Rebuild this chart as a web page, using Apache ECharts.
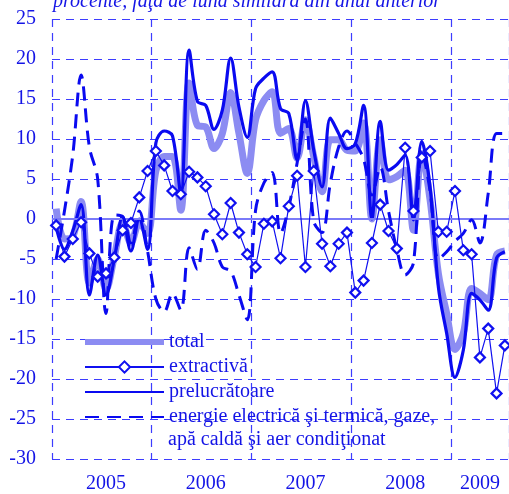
<!DOCTYPE html>
<html lang="ro">
<head>
  <meta charset="UTF-8">
  <title>Producţia industrială</title>
  <script src="https://cdn.jsdelivr.net/npm/echarts@6/dist/echarts.min.js"></script>
  <style>
    * { margin: 0; padding: 0; box-sizing: border-box; }
    body { background: #fff; }
    #chart { width: 509px; height: 494px; }
  </style>
</head>
<body>
  <div id="chart"></div>
  <script>
    // ani si numar de luni afisate
    var years = ['2005', '2006', '2007', '2008', '2009'];
    var monthsPerYear = [12, 12, 12, 12, 7];

    // procente, fata de luna similara din anul anterior
    var total = [
      1.3, -2.5, -2.2, 2.2, -8.0, -5.0, -8.8, -4.7, -0.5, -3.0, -0.5, -1.8,
      6.0, 7.8, 7.8, 1.1, 17.0, 11.7, 11.5, 8.8, 10.7, 15.8, 10.7, 5.7,
      12.4, 14.8, 15.9, 10.7, 11.3, 7.6, 12.4, 7.8, 3.4, 9.9, 9.9, 8.6,
      8.5, 12.0, 0.0, 9.9, 4.9, 5.3, 6.1, -1.4, 8.2, 2.4, -6.8, -11.8,
      -16.3, -14.3, -8.7, -9.3, -10.1, -4.5, -4.0
    ];
    var extractiva = [
      -0.8, -4.7, -2.5, -0.4, -4.3, -7.2, -6.8, -4.8, -1.4, -0.5, 2.7, 6.0,
      8.5, 6.7, 3.5, 3.1, 5.9, 5.2, 4.1, 0.6, -1.9, 2.0, -1.7, -4.4,
      -6.0, -0.6, -0.3, -4.9, 1.6, 5.4, -6.0, 6.0, -3.1, -5.9, -3.1, -1.7,
      -9.2, -7.7, -3.0, 1.8, -1.5, -3.7, 8.9, 1.0, 7.7, 8.5, -1.6, -1.6,
      3.5, -3.9, -4.4, -17.3, -13.7, -21.8, -15.8
    ];
    var prelucratoare = [
      -1.0, -3.8, -1.5, 1.8, -9.5, -4.5, -9.5, -5.0, 0.3, -4.0, 0.0, -3.8,
      9.5, 11.0, 10.4, 3.2, 21.1, 14.7, 14.2, 11.2, 13.6, 20.1, 14.0, 10.2,
      16.3, 17.6, 18.4, 13.8, 13.2, 7.4, 14.8, 8.6, 4.0, 12.6, 10.7, 8.8,
      9.4, 14.2, 0.0, 12.2, 6.1, 6.8, 8.0, -0.1, 9.7, 4.0, -8.5, -14.3,
      -19.8, -16.4, -9.3, -10.1, -11.4, -4.9, -4.1
    ];
    var energie = [
      -5.0, 1.0, 8.0, 18.0, 9.0, 5.0, -11.8, 0.5, 0.3, -3.0, 1.0, -4.0,
      -10.0, -11.6, -9.3, -11.4, -3.6, -6.3, -1.4, -3.0, -6.0, -6.5, -9.5, -12.6,
      1.1, 4.5, 5.8, -1.8, 1.5, 7.0, 12.5, -0.3, -1.7, 4.5, 9.0, 11.0,
      9.5, 7.5, 3.0, 6.5, 1.0, -3.8, -7.0, -5.5, 8.5, 3.5, -5.0, -4.1,
      -2.8, -1.8, -0.1, -3.0, 3.2, 10.7, 10.7
    ];

    var names = [
      'total',
      'extractivă',
      'prelucrătoare',
      'energie electrică şi termică, gaze,\napă caldă şi aer condiţionat'
    ];

    // categorii lunare + pozitia etichetei de an (mijlocul anului)
    var categories = [];
    var labelIndex = {};
    var yearStart = {};
    years.forEach(function (y, k) {
      yearStart[categories.length] = true;
      labelIndex[categories.length + Math.floor(monthsPerYear[k] / 2)] = true;
      for (var m = 1; m <= monthsPerYear[k]; m++) {
        categories.push(y + '-' + (m < 10 ? '0' + m : m));
      }
    });

    var blue = '#1414e6';
    var gridBlue = '#3c3cff';
    var font = '"Liberation Serif", "Times New Roman", serif';
    var noSymbol = { opacity: 0 };

    var chart = echarts.init(document.getElementById('chart'), null, { renderer: 'canvas' });

    var option = {
      animation: false,
      backgroundColor: '#fff',
      title: {
        text: 'procente, faţă de luna similară din anul anterior',
        left: 48,
        top: -13,
        textStyle: {
          color: blue,
          fontFamily: font,
          fontStyle: 'italic',
          fontWeight: 'normal',
          fontSize: 20
        }
      },
      grid: { left: 52, right: 0, top: 19, bottom: 34 },
      legend: {
        orient: 'vertical',
        left: 82,
        top: 330,
        height: 200,
        padding: 0,
        itemWidth: 79,
        itemHeight: 14,
        itemGap: 1,
        selectedMode: false,
        // a doua linie a ultimului element e scrisa separat (graphic)
        formatter: function (name) { return name.split('\n')[0]; },
        textStyle: { color: blue, fontFamily: font, fontSize: 20, lineHeight: 24 },
        data: [
          { name: names[0], itemStyle: noSymbol, lineStyle: { width: 6 } },
          { name: names[1] },
          { name: names[2], itemStyle: noSymbol },
          { name: names[3], itemStyle: noSymbol }
        ]
      },
      graphic: [{
        type: 'text',
        left: 168,
        top: 430,
        style: {
          text: names[3].split('\n')[1],
          fill: blue,
          font: '20px ' + font
        }
      }],
      xAxis: {
        type: 'category',
        data: categories,
        boundaryGap: true,
        axisLine: { show: false },
        axisTick: { show: false },
        axisLabel: {
          interval: function (i) { return !!labelIndex[i]; },
          formatter: function (v) { return v.slice(0, 4); },
          color: blue,
          fontFamily: font,
          fontSize: 20,
          margin: 15
        },
        splitLine: {
          show: true,
          interval: function (i) { return !!yearStart[i]; },
          lineStyle: { color: gridBlue, type: [8, 6], width: 1.2 }
        }
      },
      yAxis: {
        type: 'value',
        min: -30,
        max: 25,
        interval: 5,
        axisLine: { show: false },
        axisTick: { show: false },
        axisLabel: { color: blue, fontFamily: font, fontSize: 20, margin: 16 },
        splitLine: { lineStyle: { color: gridBlue, type: [8, 6], width: 1.2 } }
      },
      series: [
        {
          name: names[0],
          type: 'line',
          data: total,
          smooth: 0.35,
          symbol: 'none',
          z: 2,
          lineStyle: { color: '#8c8cf2', width: 7 },
          itemStyle: { color: '#8c8cf2' },
          markLine: {
            silent: true,
            symbol: 'none',
            label: { show: false },
            lineStyle: { color: '#7a7af8', type: 'solid', width: 2 },
            data: [{ yAxis: 0 }]
          }
        },
        {
          name: names[1],
          type: 'line',
          data: extractiva,
          symbol: 'diamond',
          symbolSize: 10,
          showAllSymbol: true,
          z: 6,
          lineStyle: { color: '#1010f0', width: 1.2 },
          itemStyle: { color: '#fff', borderColor: '#1010f0', borderWidth: 2.2 }
        },
        {
          name: names[2],
          type: 'line',
          data: prelucratoare,
          smooth: 0.35,
          symbol: 'none',
          z: 4,
          lineStyle: { color: '#0a0af0', width: 3.2 },
          itemStyle: { color: '#0a0af0' }
        },
        {
          name: names[3],
          type: 'line',
          data: energie,
          smooth: 0.35,
          symbol: 'none',
          z: 5,
          lineStyle: { color: '#0a0af0', width: 3, type: [14, 8] },
          itemStyle: { color: '#0a0af0' }
        }
      ]
    };

    chart.setOption(option);
  </script>
</body>
</html>
